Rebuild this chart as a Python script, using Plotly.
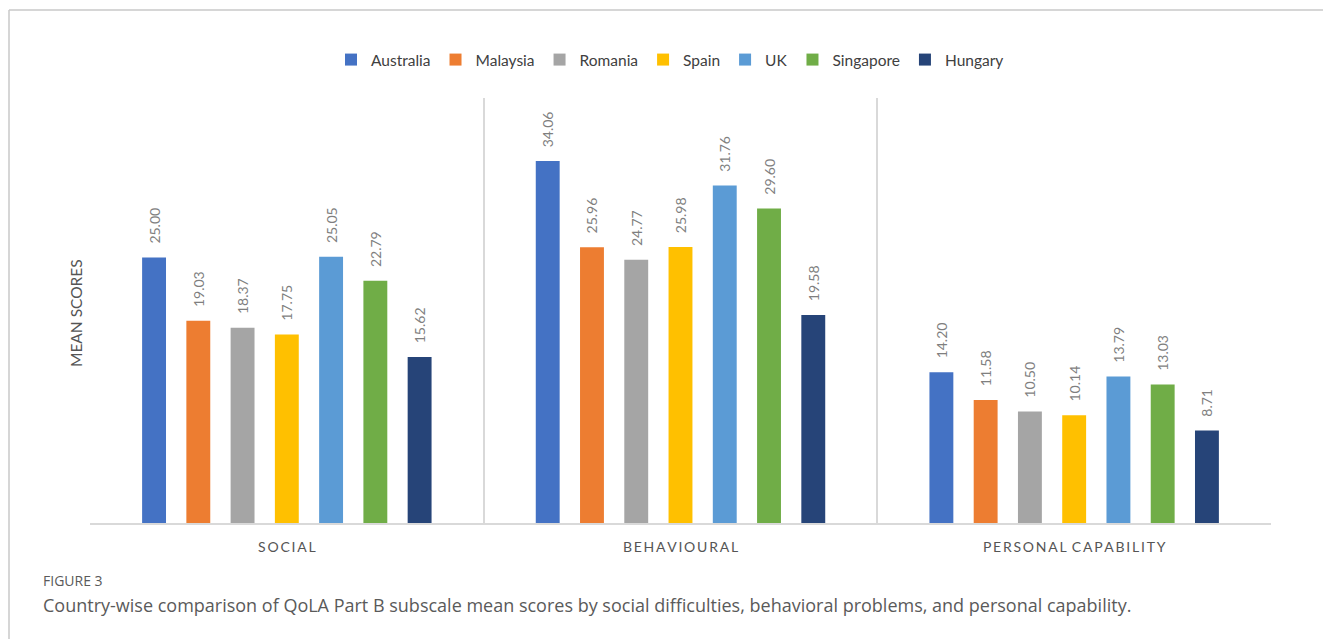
import plotly.graph_objects as go

categories = ["SOCIAL", "BEHAVIOURAL", "PERSONAL CAPABILITY"]
countries = ["Australia", "Malaysia", "Romania", "Spain", "UK", "Singapore", "Hungary"]
australia = [25.00, 34.06, 14.20]
malaysia = [19.03, 25.96, 11.58]
romania = [18.37, 24.77, 10.50]
spain = [17.75, 25.98, 10.14]
uk = [25.05, 31.76, 13.79]
singapore = [22.79, 29.60, 13.03]
hungary = [15.62, 19.58, 8.71]
series = [australia, malaysia, romania, spain, uk, singapore, hungary]
colors = ["#4472C4", "#ED7D31", "#A5A5A5", "#FFC000", "#5B9BD5", "#70AD47", "#264478"]

W, H = 1323, 639
L, R, T, B = 90, 1271, 98, 523
pw, ph = R - L, B - T
CHART_FONT = "Lato"


def px(x):
    return (x - L) / pw


def py(y):
    return (B - y) / ph


def spaced(s):
    words = s.split(" ")
    return "\u2009\u2009\u2009".join("\u2009".join(list(w)) for w in words)


fig = go.Figure()
for name, vals, col in zip(countries, series, colors):
    fig.add_trace(go.Bar(
        name=name, x=categories, y=vals, marker_color=col, marker_line_width=0,
        text=["   " + f"{v:.2f}" for v in vals], textposition="outside", textangle=-90,
        cliponaxis=False, constraintext="none",
        textfont=dict(family=CHART_FONT, size=14, color="#7f7f7f"),
    ))

fig.update_layout(
    width=W, height=H,
    margin=dict(l=L, r=W - R, t=T, b=H - B),
    paper_bgcolor="white", plot_bgcolor="white",
    barmode="group", bargap=0.213, bargroupgap=0.46,
    font=dict(family=CHART_FONT, color="#595959"),
    showlegend=True,
    legend=dict(orientation="h", x=px(670), xanchor="center", y=py(60), yanchor="middle",
                font=dict(size=15.5, color="#404040", family=CHART_FONT), itemwidth=30,
                traceorder="normal"),
)
fig.update_xaxes(
    tickson="boundaries", showgrid=True, gridcolor="#d9d9d9", gridwidth=1.5,
    showline=True, linecolor="#d9d9d9", linewidth=1.5, ticks="",
    tickvals=categories, ticktext=[spaced(c) for c in categories],
    tickfont=dict(size=14, color="#555555", family=CHART_FONT),
    ticklabelstandoff=10,
)
fig.update_yaxes(range=[0, 40], showgrid=False, showticklabels=False, zeroline=False,
                 showline=False)

# y-axis title
fig.add_annotation(text="MEAN SCORES", xref="paper", yref="paper", x=px(76), y=py(313),
                   textangle=-90, showarrow=False,
                   font=dict(size=15.5, color="#555555", family=CHART_FONT),
                   xanchor="center", yanchor="middle")
# caption
fig.add_annotation(text="FIGURE 3", xref="paper", yref="paper", x=px(41), y=py(580),
                   showarrow=False, xanchor="left", yanchor="middle",
                   font=dict(size=14, color="#5a5a5a", family="Open Sans"))
fig.add_annotation(text="Country-wise comparison of QoLA Part B subscale mean scores by social difficulties, behavioral problems, and personal capability.",
                   xref="paper", yref="paper", x=px(41), y=py(605),
                   showarrow=False, xanchor="left", yanchor="middle",
                   font=dict(size=18, color="#5a5a5a", family="Open Sans"))
# outer frame
fig.add_shape(type="line", xref="paper", yref="paper", x0=px(9), x1=px(1330), y0=py(10), y1=py(10),
              line=dict(color="#c8c8c8", width=1.5))
fig.add_shape(type="line", xref="paper", yref="paper", x0=px(9), x1=px(9), y0=py(10), y1=py(650),
              line=dict(color="#c8c8c8", width=1.5))

fig.write_html("out.html")
